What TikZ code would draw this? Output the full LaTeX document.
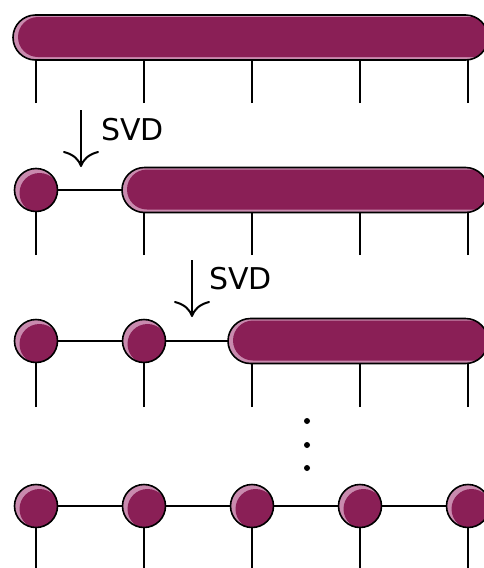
\documentclass[tikz,border=0pt]{standalone}
\usepackage{fontspec}
\setmainfont{DejaVu Sans}
\usetikzlibrary{shapes.misc,arrows.meta}
\definecolor{tensor}{HTML}{8A1F56}
\definecolor{shine}{HTML}{C98AAE}
\tikzset{
  x=1pt, y=-1pt,
  site/.style={circle, draw=black, line width=1.6pt, fill=shine,
    minimum size=43pt, inner sep=0pt, outer sep=0pt,
    path picture={\fill[tensor] ([shift={(3.5pt,-3pt)}]path picture bounding box.center) circle (20pt);}},
  block/.style={rounded rectangle, draw=black, line width=1.6pt, fill=shine,
    minimum height=45pt, inner sep=0pt, outer sep=0pt,
    path picture={\fill[tensor, rounded corners=20pt]
      ([shift={(5pt,3pt)}]path picture bounding box.south west) rectangle
      ([shift={(8pt,-2pt)}]path picture bounding box.north east);}},
  leg/.style={line width=2.2pt, black},
  bond/.style={line width=2.2pt, black},
  svdarrow/.style={line width=2pt, -{Computer Modern Rightarrow[length=16pt,width=36pt,line width=2pt]}},
  svdlabel/.style={font=\fontsize{30}{31}\selectfont, anchor=base west, inner sep=0pt},
  dot/.style={circle, fill=black, inner sep=0pt, minimum size=6pt}
}
\begin{document}
\begin{tikzpicture}
\useasboundingbox (0,0) rectangle (483,568);

% leg end points
\foreach \i/\x in {1/36,2/144,3/252,4/360,5/468} {
  \coordinate (e1\i) at (\x,103);
  \coordinate (e2\i) at (\x,255);
  \coordinate (e3\i) at (\x,407);
  \coordinate (e4\i) at (\x,575);
}

% row 1: one big tensor
\foreach \i in {1,2,3,4,5} \draw[leg] (e1\i) -- (e1\i |- 0,37);
\node[block, minimum width=475pt] (b1) at (250.5,37.5) {};

% first SVD
\coordinate (a1s) at (81,110);
\coordinate (a1e) at (81,167);
\draw[svdarrow] (a1s) -- (a1e);
\node[svdlabel] (s1) at (101,140) {SVD};

% row 2
\foreach \i in {1,2,3,4,5} \draw[leg] (e2\i) -- (e2\i |- 0,190);
\node[site] (c21) at (36,190) {};
\node[block, minimum width=366pt] (b2) at (305,190) {};
\draw[bond] (c21) -- (b2);

% second SVD
\coordinate (a2s) at (192,260);
\coordinate (a2e) at (192,317);
\draw[svdarrow] (a2s) -- (a2e);
\node[svdlabel] (s2) at (209,289) {SVD};

% row 3
\foreach \i in {1,2,3,4,5} \draw[leg] (e3\i) -- (e3\i |- 0,341);
\node[site] (c31) at (36,341) {};
\node[site] (c32) at (144,341) {};
\node[block, minimum width=260pt] (b3) at (358,341) {};
\draw[bond] (c31) -- (c32);
\draw[bond] (c32) -- (b3);

% vertical ellipsis
\node[dot] (d1) at (307,421) {};
\node[dot] (d2) at (307,445) {};
\node[dot] (d3) at (307,468) {};

% row 4: the full chain
\foreach \i/\x in {1/36,2/144,3/252,4/360,5/468}
  \node[site] (c4\i) at (\x,506) {};
\foreach \i in {1,2,3,4,5} \draw[leg] (c4\i) -- (e4\i);
\draw[bond] (c41) -- (c42);
\draw[bond] (c42) -- (c43);
\draw[bond] (c43) -- (c44);
\draw[bond] (c44) -- (c45);
\end{tikzpicture}
\end{document}
